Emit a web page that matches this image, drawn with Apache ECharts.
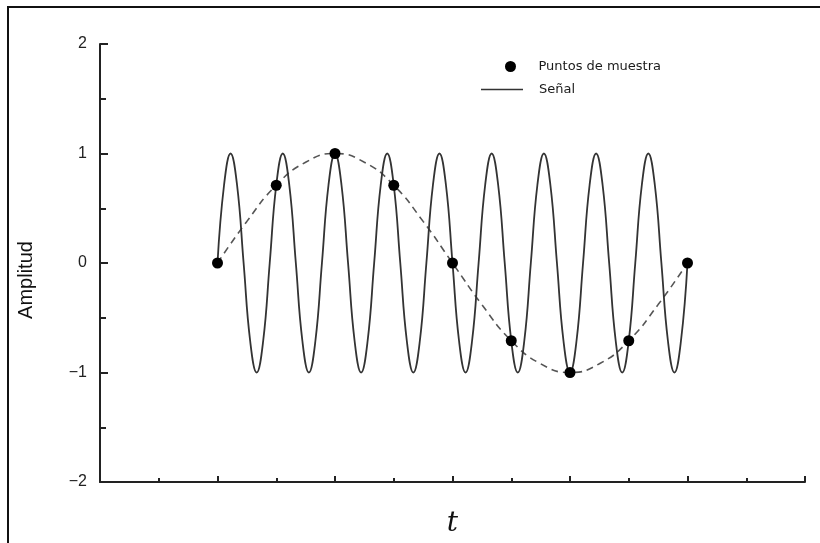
<!DOCTYPE html>
<html>
<head>
<meta charset="utf-8">
<script src="https://cdn.jsdelivr.net/npm/echarts@6/dist/echarts.min.js"></script>
<style>
    html, body { margin: 0; padding: 0; background: #fff; }
    #wrap { position: relative; width: 820px; height: 543px; }
    #chart { position: absolute; left: 0; top: 0; width: 820px; height: 543px; }
    #frame {
        position: absolute; left: 7px; top: 6px; width: 813px; height: 537px;
        border-top: 2px solid #111; border-left: 2px solid #111;
        box-sizing: border-box; pointer-events: none;
    }
</style>
</head>
<body>
<div id="wrap">
    <div id="chart"></div>
    <div id="frame"></div>
</div>
<script>
// signal: 9 cycles over 8 sample periods, 8 points a cycle
const signalStep = 1 / 9;
const signalValues = [
    0, 0.71, 1, 0.71, 0, -0.71, -1, -0.71,
    0, 0.71, 1, 0.71, 0, -0.71, -1, -0.71,
    0, 0.71, 1, 0.71, 0, -0.71, -1, -0.71,
    0, 0.71, 1, 0.71, 0, -0.71, -1, -0.71,
    0, 0.71, 1, 0.71, 0, -0.71, -1, -0.71,
    0, 0.71, 1, 0.71, 0, -0.71, -1, -0.71,
    0, 0.71, 1, 0.71, 0, -0.71, -1, -0.71,
    0, 0.71, 1, 0.71, 0, -0.71, -1, -0.71,
    0, 0.71, 1, 0.71, 0, -0.71, -1, -0.71,
    0
];
// dashed alias curve, every half sample
const aliasStep = 0.5;
const aliasValues = [0, 0.38, 0.71, 0.92, 1, 0.92, 0.71, 0.38, 0,
    -0.38, -0.71, -0.92, -1, -0.92, -0.71, -0.38, 0];
// sample points at t = 0..8
const sampleValues = [0, 0.71, 1, 0.71, 0, -0.71, -1, -0.71, 0];
const yTicks = [-2, -1, 0, 1, 2];

const legendText = {
    color: '#1a1a1a',
    fontFamily: 'DejaVu Sans',
    fontSize: 13
};

const chart = echarts.init(document.getElementById('chart'));
chart.setOption({
    animation: false,
    backgroundColor: 'transparent',
    grid: { left: 100, right: 15, top: 44, bottom: 61 },
    legend: [{
        data: ['Puntos de muestra'],
        left: 500, top: 55,
        icon: 'circle', itemWidth: 46, itemHeight: 11,
        textStyle: legendText
    }, {
        data: ['Señal'],
        left: 476, top: 78,
        icon: 'rect', itemWidth: 42, itemHeight: 1.5,
        textStyle: Object.assign({ padding: [0, 0, 0, 11] }, legendText)
    }],
    xAxis: {
        type: 'value',
        min: -2, max: 10, interval: 2,
        name: 't',
        nameLocation: 'middle',
        nameGap: 28,
        nameTextStyle: {
            fontFamily: 'DejaVu Serif', fontStyle: 'italic',
            fontSize: 28, color: '#111'
        },
        axisLine: { onZero: false, lineStyle: { color: '#222', width: 2 } },
        axisTick: { inside: true, length: 6, lineStyle: { color: '#222', width: 2 } },
        minorTick: { show: true, splitNumber: 2, length: 4, lineStyle: { color: '#222', width: 2 } },
        axisLabel: { show: false },
        splitLine: { show: false }
    },
    yAxis: {
        type: 'value',
        min: yTicks[0], max: yTicks[yTicks.length - 1], interval: 1,
        name: 'Amplitud',
        nameLocation: 'middle',
        nameGap: 64,
        nameTextStyle: {
            fontFamily: 'Liberation Sans', fontSize: 20, color: '#111',
            padding: [0, 34, 0, 0]
        },
        axisLine: { onZero: false, lineStyle: { color: '#222', width: 2 } },
        axisTick: { inside: true, length: 8, lineStyle: { color: '#222', width: 2 } },
        minorTick: { show: true, splitNumber: 2, length: 6, lineStyle: { color: '#222', width: 2 } },
        axisLabel: {
            margin: 13,
            fontFamily: 'Liberation Sans', fontSize: 16, color: '#222',
            formatter: v => String(v).replace('-', '\u2212')
        },
        splitLine: { show: false }
    },
    series: [{
        name: 'Señal',
        type: 'line',
        data: signalValues.map((v, i) => [i * signalStep, v]),
        smooth: 0.45,
        symbol: 'none',
        lineStyle: { color: '#333', width: 1.8 },
        itemStyle: { color: '#333' },
        z: 2
    }, {
        name: 'alias',
        type: 'line',
        data: aliasValues.map((v, i) => [i * aliasStep, v]),
        smooth: true,
        symbol: 'none',
        lineStyle: { color: '#555', width: 1.6, type: [7, 5] },
        z: 1
    }, {
        name: 'Puntos de muestra',
        type: 'scatter',
        data: sampleValues.map((v, i) => [i, v]),
        symbol: 'circle',
        symbolSize: 11,
        itemStyle: { color: '#000', opacity: 1 },
        z: 3
    }]
});
</script>
</body>
</html>
